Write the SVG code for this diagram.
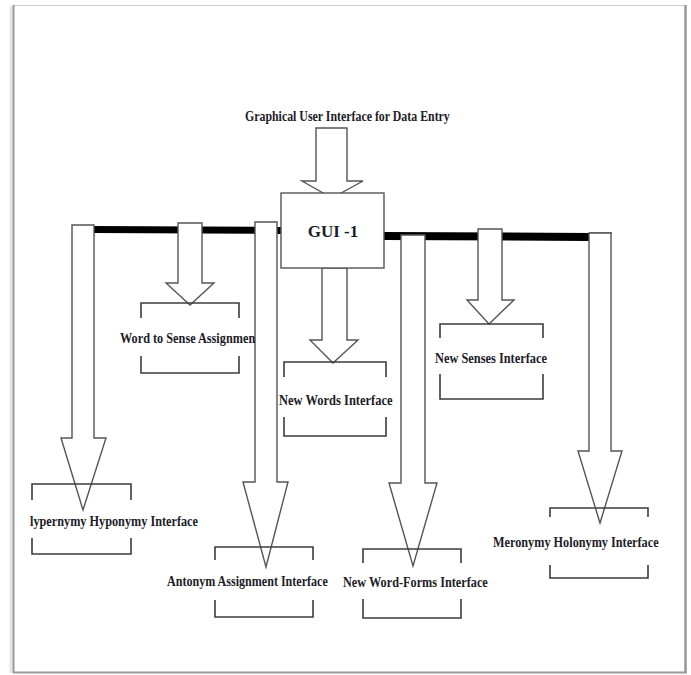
<svg xmlns="http://www.w3.org/2000/svg" width="691" height="675" viewBox="0 0 691 675">
<style>
.t{font-family:"Liberation Serif","Times New Roman",serif;font-weight:bold;font-size:15px;fill:#1c1c28}
.arr{fill:#fff;stroke:#555;stroke-width:1.4;stroke-linejoin:miter}
.br{fill:none;stroke:#3c3c3c;stroke-width:1.6}
.bar{fill:#000}
</style>
<rect x="0" y="0" width="691" height="675" fill="#fff"/>
<g id="frame">
<line x1="11" y1="6" x2="11" y2="673" stroke="#e6e6e6" stroke-width="3"/>
<rect x="13.5" y="5.5" width="671.5" height="667" fill="#fff" stroke="#d0d0d0" stroke-width="1.2"/>
<line x1="13.5" y1="5" x2="13.5" y2="673" stroke="#9a9a9a" stroke-width="2"/>
<line x1="685.5" y1="5" x2="685.5" y2="673" stroke="#9a9a9a" stroke-width="2.5"/>
<line x1="13" y1="672.5" x2="687" y2="672.5" stroke="#9a9a9a" stroke-width="2"/>
</g>
<g id="connectors">
<polygon class="bar" points="93,226 281,227 281,234 93,233"/>
<polygon class="bar" points="383,232 589,233 589,241 383,240"/>
<line x1="589" y1="233" x2="612" y2="233" stroke="#555" stroke-width="1.4"/>
<polygon class="arr" points="316,128 347,128 347,181 363,181 332,198 302,181 316,181"/>
<polygon class="arr" points="72,225 94,225 94,438 106,438 83,510 61,438 72,438"/>
<polygon class="arr" points="178,223 202,223 202,283 214,283 190,305 166,283 178,283"/>
<polygon class="arr" points="255,222 277,222 277,482 288,482 266,567 243,482 255,482"/>
<polygon class="arr" points="322,268 347,268 347,340 358,340 333,363 310,340 322,340"/>
<polygon class="arr" points="401,235 425,235 425,483 437,483 413,566 389,483 401,483"/>
<polygon class="arr" points="478,229 502,229 502,300 514,300 489,324 467,300 478,300"/>
<polygon class="arr" points="589,233 611,233 611,451 622,451 600,523 578,451 589,451"/>
</g>
<g id="title">
<text class="t" transform="translate(245,121) scale(0.8,1)" x="0" y="0" textLength="256" lengthAdjust="spacingAndGlyphs">Graphical User Interface for Data Entry</text>
</g>
<g id="gui1">
<rect x="281" y="193" width="103" height="75" fill="#fff" stroke="#555" stroke-width="1.4"/>
<text class="t" x="333" y="237" text-anchor="middle" style="font-size:17px">GUI -1</text>
</g>
<g id="word-to-sense">
<path class="br" d="M141,318 V303 H239 V318 M141,356 V373 H239 V356"/>
<text class="t" transform="translate(120,343) scale(0.8,1)" x="0" y="0" textLength="169" lengthAdjust="spacingAndGlyphs">Word to Sense Assignmen</text>
</g>
<g id="new-words">
<path class="br" d="M284,377 V362 H386 V377 M284,417 V436 H386 V417"/>
<text class="t" transform="translate(279,405) scale(0.8,1)" x="0" y="0" textLength="142" lengthAdjust="spacingAndGlyphs">New Words Interface</text>
</g>
<g id="new-senses">
<path class="br" d="M440,338 V324 H543 V338 M440,374 V399 H543 V374"/>
<text class="t" transform="translate(435,363) scale(0.8,1)" x="0" y="0" textLength="140" lengthAdjust="spacingAndGlyphs">New Senses Interface</text>
</g>
<g id="hypernymy">
<path class="br" d="M32,500 V484 H131 V500 M32,538 V554 H131 V538"/>
<text class="t" transform="translate(30,526) scale(0.8,1)" x="0" y="0" textLength="210" lengthAdjust="spacingAndGlyphs">lypernymy Hyponymy Interface</text>
</g>
<g id="antonym">
<path class="br" d="M215,560 V547 H313 V560 M215,600 V617 H313 V600"/>
<text class="t" transform="translate(167,586) scale(0.8,1)" x="0" y="0" textLength="201" lengthAdjust="spacingAndGlyphs">Antonym Assignment Interface</text>
</g>
<g id="word-forms">
<path class="br" d="M363,563 V549 H461 V563 M363,599 V618 H461 V599"/>
<text class="t" transform="translate(343,587) scale(0.8,1)" x="0" y="0" textLength="181" lengthAdjust="spacingAndGlyphs">New Word-Forms Interface</text>
</g>
<g id="meronymy">
<path class="br" d="M550,517 V508 H648 V517 M550,565 V578 H648 V565"/>
<text class="t" transform="translate(493,547) scale(0.8,1)" x="0" y="0" textLength="207" lengthAdjust="spacingAndGlyphs">Meronymy Holonymy Interface</text>
</g>
</svg>
